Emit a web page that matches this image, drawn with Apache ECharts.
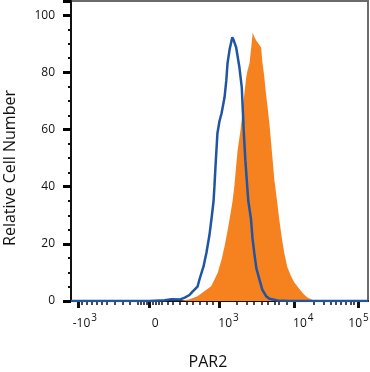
<!DOCTYPE html>
<html>
<head>
<meta charset="utf-8">
<script src="https://cdn.jsdelivr.net/npm/echarts@6/dist/echarts.min.js"></script>
<style>
html,body{margin:0;padding:0;background:#fff;}
#chart{width:370px;height:372px;}
</style>
</head>
<body>
<div id="chart"></div>
<script>
// x values are in display channels (0-1000) of the biexponential PAR2 axis
var majorTickChannels = [23, 263, 500, 752, 968];
var majorTickLabels = ['-10^3', '0', '10^3', '10^4', '10^5'];
var minorTickChannels = [37, 54, 70, 87, 104, 121, 148, 174, 198,
  225, 235, 245, 255, 275, 285, 295, 305,
  325, 342, 366, 389, 409, 433, 456, 476,
  557, 591, 617, 641, 661, 685, 701, 725,
  819, 852, 876, 893, 909, 926, 943, 953];

var isotypeX = [0, 265, 315, 339, 366, 383, 399, 406, 426, 433, 446, 456, 466, 473, 480, 483, 487, 493, 500, 507, 517, 523, 527, 534, 543, 547, 556, 567, 575, 578, 582, 587, 593, 597, 606, 611, 617, 624, 634, 644, 657, 668, 695, 735, 1000];
var isotypeY = [0, 0, 0.3, 0.6, 0.5, 1.2, 2.1, 2.9, 5, 7.7, 12, 16.9, 23, 28.7, 35, 40.2, 48, 58.7, 63, 65.7, 71.3, 77.3, 83.2, 88, 92.3, 91.5, 88.8, 81.8, 74.8, 67.8, 58.7, 49.3, 40.6, 35, 28.7, 22, 16.9, 11.5, 7.7, 4, 1.7, 0.8, 0.2, 0, 0];

var par2X = [0, 366, 399, 426, 450, 472, 483, 494, 507, 517, 527, 534, 544, 550, 555, 561, 571, 578, 584, 590, 594, 601, 606, 612, 617, 623, 629, 640, 644, 651, 656, 662, 668, 671, 679, 685, 687, 695, 701, 710, 718, 728, 741, 752, 769, 782, 796, 819, 852, 1000];
var par2Y = [0, 0, 0.6, 1.7, 3.5, 5.2, 7.5, 9.9, 14.5, 19.2, 24.5, 28.7, 35, 40.2, 46, 52.8, 60, 66.8, 73, 78.3, 80.5, 83.2, 88, 94, 92.5, 91.3, 91, 88.8, 84, 78.3, 73, 67.8, 62, 58.7, 49.3, 42, 40.6, 34, 28.7, 22, 16.9, 12, 8.7, 6.5, 4.2, 2.5, 1.2, 0.1, 0, 0];

function pairs(xs, ys) {
  var out = [];
  for (var i = 0; i < xs.length; i++) out.push([xs[i], ys[i]]);
  return out;
}

var FONT = 'Open Sans';
var labelMap = {};
majorTickChannels.forEach(function (c, i) { labelMap[c] = majorTickLabels[i]; });

var chart = echarts.init(document.getElementById('chart'), null, {renderer: 'canvas'});
chart.setOption({
  animation: false,
  backgroundColor: '#ffffff',
  grid: {
    left: 71, right: 2, top: 1, bottom: 71,
    containLabel: false, outerBoundsMode: 'none',
    show: true, borderColor: '#6b6b6b', borderWidth: 2, backgroundColor: 'transparent'
  },
  xAxis: [{
    type: 'value', min: 0, max: 1000,
    name: 'PAR2', nameLocation: 'middle', nameGap: 53,
    nameTextStyle: {fontFamily: FONT, fontSize: 16, color: '#111', padding: [0, 23, 0, 0]},
    axisLine: {show: true, onZero: false, lineStyle: {color: '#111', width: 2}},
    axisTick: {show: true, customValues: majorTickChannels, length: 7, lineStyle: {color: '#111', width: 3}},
    axisLabel: {
      customValues: majorTickChannels, margin: 15, color: '#111', fontFamily: FONT,
      formatter: function (v) {
        var s = labelMap[Math.round(v)] || '';
        if (s === '0') return '{p|0}';
        var parts = s.split('^');
        var pad = (s === '10^5') ? 'q' : (s === '-10^3' ? 'm' : 'b');
        return '{' + pad + '|' + parts[0] + '}{s|' + parts[1] + '}';
      },
      rich: {
        p: {fontFamily: FONT, fontSize: 12, color: '#111', padding: [0, 0, 0, 12], verticalAlign: 'bottom', lineHeight: 14},
        m: {fontFamily: FONT, fontSize: 12, color: '#111', padding: [0, 0, 0, 14], verticalAlign: 'bottom', lineHeight: 14},
        b: {fontFamily: FONT, fontSize: 12, color: '#111', padding: [0, 0, 0, 18], verticalAlign: 'bottom', lineHeight: 14},
        q: {fontFamily: FONT, fontSize: 12, color: '#111', padding: [0, 0, 0, 0], verticalAlign: 'bottom', lineHeight: 14},
        s: {fontFamily: FONT, fontSize: 10, color: '#111', padding: [0, 0, 7, 1], verticalAlign: 'bottom', lineHeight: 12}
      }
    },
    splitLine: {show: false}
  }, {
    type: 'value', min: 0, max: 1000, position: 'bottom',
    axisLine: {show: false},
    axisTick: {show: true, customValues: minorTickChannels, length: 4, lineStyle: {color: '#111', width: 1.5}},
    axisLabel: {show: false},
    splitLine: {show: false}
  }],
  yAxis: {
    type: 'value', min: 0, max: 105, interval: 20,
    name: 'Relative Cell Number', nameLocation: 'middle', nameGap: 53, nameRotate: 90,
    nameTextStyle: {fontFamily: FONT, fontSize: 16, color: '#111', padding: [0, 34, 0, 0]},
    axisLine: {show: true, lineStyle: {color: '#111', width: 2}},
    axisTick: {show: true, length: 8, lineStyle: {color: '#000', width: 3}},
    minorTick: {show: true, splitNumber: 4, length: 3, lineStyle: {color: '#111', width: 2}},
    axisLabel: {
      margin: 16, fontFamily: FONT, fontSize: 12, color: '#111',
      formatter: function (v) { return v > 100 ? '' : String(v); }
    },
    splitLine: {show: false}
  },
  series: [{
    name: 'PAR2', type: 'line', xAxisIndex: 0,
    data: pairs(par2X, par2Y),
    showSymbol: false, symbol: 'none',
    lineStyle: {width: 0, color: '#f5821f'},
    areaStyle: {color: '#f5821f', opacity: 1},
    z: 2
  }, {
    name: 'Isotype', type: 'line', xAxisIndex: 0,
    data: pairs(isotypeX, isotypeY),
    showSymbol: false, symbol: 'none',
    lineStyle: {width: 2.5, color: '#1f55a3'},
    z: 3
  }]
});
</script>
</body>
</html>
